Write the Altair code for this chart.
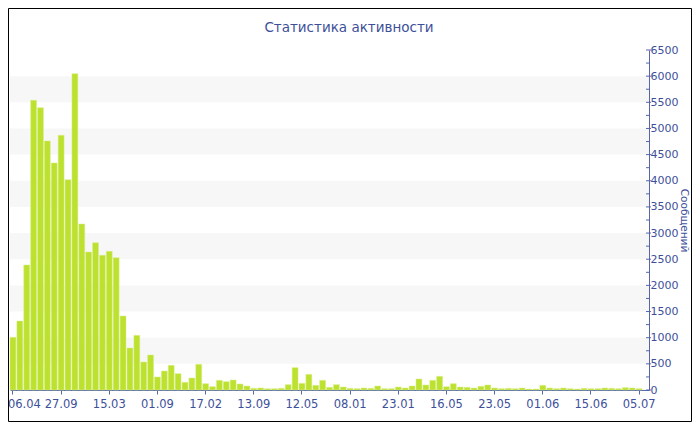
import altair as alt
import pandas as pd

# Message counts per period
values = [
    1008, 1319, 2390, 5539, 5398, 4761, 4340, 4869, 4021, 6048,
    3174, 2639, 2817, 2575, 2651, 2530, 1415, 803, 1045, 535,
    669, 249, 363, 472, 312, 147, 229, 491, 121, 64,
    185, 159, 191, 115, 76, 32, 38, 25, 25, 32,
    102, 427, 127, 299, 89, 185, 51, 102, 57, 32,
    25, 38, 32, 76, 25, 25, 57, 38, 76, 210,
    96, 185, 261, 63, 121, 57, 51, 38, 70, 96,
    38, 25, 32, 25, 38, 19, 19, 89, 38, 25,
    38, 25, 19, 32, 25, 25, 38, 32, 25, 45,
    38, 25,
]
tick_labels = ["06.04", "27.09", "15.03", "01.09", "17.02", "13.09", "12.05",
               "08.01", "23.01", "16.05", "23.05", "01.06", "15.06", "05.07"]
y_major = list(range(0, 6501, 500))
y_minor = list(range(250, 6500, 500))
band_lo = [500, 1500, 2500, 3500, 4500, 5500]
band_hi = [1000, 2000, 3000, 4000, 5000, 6000]

W, H = 639, 340
PAD = {"left": 2, "top": 42, "right": 43, "bottom": 32}
BLUE = "#3d4f9a"
AXIS = "#5566aa"
GREEN = "#bde12f"

df = pd.DataFrame({"i": list(range(len(values))), "v": values})
bands = pd.DataFrame({"y0": band_lo, "y1": band_hi})
majors = pd.DataFrame({"t": y_major})
minors = pd.DataFrame({"t": y_minor})

yscale = alt.Scale(domain=[0, 6500], nice=False, zero=True)
yaxis = alt.Axis(orient="right", values=y_major, ticks=False, grid=False,
                 domainColor=AXIS, labelColor=BLUE, labelFont="DejaVu Sans",
                 labelFontSize=11, labelPadding=1, title="Сообщений",
                 titleColor=BLUE, titleFont="DejaVu Sans", titleFontSize=10.5,
                 titleFontWeight="normal", titlePadding=1, format="d")


def Y(field):
    return alt.Y(field, type="quantitative", scale=yscale, axis=yaxis, title="Сообщений")


lbl_js = "[" + ",".join("'%s'" % s for s in tick_labels) + "]"
xaxis = alt.Axis(values=list(range(0, len(values), 7)),
                 labelExpr=lbl_js + "[floor(datum.value/7)]",
                 labelAngle=0, tickSize=4, tickColor=AXIS, domainColor=AXIS,
                 labelColor=BLUE, labelFont="DejaVu Sans", labelFontSize=11.5,
                 labelPadding=4, grid=False, title=None,
                 labelFlush=5, labelFlushOffset=5)

band_layer = alt.Chart(bands).mark_rect(color="#f7f7f7").encode(
    y=Y("y0"), y2="y1", x=alt.value(0), x2=alt.value(W))

bar_layer = alt.Chart(df).mark_bar(color=GREEN, stroke="#d9ef8c", strokeWidth=0.5).encode(
    x=alt.X("i:O", scale=alt.Scale(domain=list(range(len(values) + 1)),
                                   paddingInner=0.14, paddingOuter=0.0),
            axis=xaxis),
    y=Y("v"))

major_layer = alt.Chart(majors).mark_rule(color=AXIS, strokeWidth=1).encode(
    y=Y("t"), x=alt.value(W - 3), x2=alt.value(W + 2))

minor_layer = alt.Chart(minors).mark_rule(color=AXIS, strokeWidth=1).encode(
    y=Y("t"), x=alt.value(W - 3), x2=alt.value(W))

border = alt.Chart(alt.Data(values=[{"a": 1}])).mark_rect(
    filled=False, stroke="black", strokeWidth=1).encode(
    x=alt.value(-PAD["left"] + 0.5), x2=alt.value(W + PAD["right"] - 0.5),
    y=alt.value(-PAD["top"] + 0.5), y2=alt.value(H + PAD["bottom"] - 0.5))

chart = alt.layer(band_layer, bar_layer, major_layer, minor_layer, border).properties(
    width=W, height=H,
    title=alt.TitleParams("Статистика активности", font="DejaVu Sans", fontSize=13.5,
                          fontWeight="normal", color=BLUE, anchor="middle",
                          baseline="alphabetic", dx=19.5, dy=37, offset=0),
    autosize=alt.AutoSizeParams(type="none"),
    padding=PAD,
).configure_view(stroke=None)

chart.save("out.html", embed_options={"renderer": "svg", "actions": False})
